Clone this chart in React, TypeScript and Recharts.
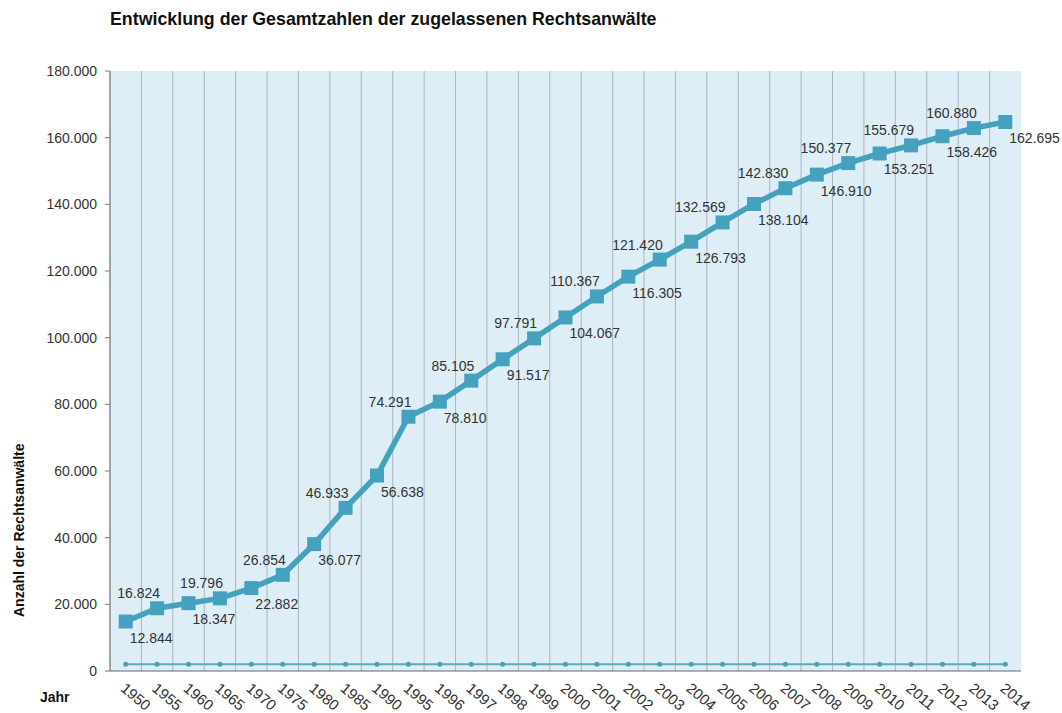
import { Area, AreaChart, CartesianGrid, LabelList, XAxis, YAxis } from "recharts";

const YEARS = [
  "1950", "1955", "1960", "1965", "1970", "1975", "1980", "1985", "1990", "1995",
  "1996", "1997", "1998", "1999", "2000", "2001", "2002", "2003", "2004", "2005",
  "2006", "2007", "2008", "2009", "2010", "2011", "2012", "2013", "2014",
];

const ANWAELTE = [
  12844, 16824, 18347, 19796, 22882, 26854, 36077, 46933, 56638, 74291,
  78810, 85105, 91517, 97791, 104067, 110367, 116305, 121420, 126793, 132569,
  138104, 142830, 146910, 150377, 153251, 155679, 158426, 160880, 162695,
];

// untere Reihe (fast konstant am Boden)
const SOCKEL = [
  2000, 2000, 2000, 2000, 2000, 2000, 2000, 2000, 2000, 2000,
  2000, 2000, 2000, 2000, 2000, 2000, 2000, 2000, 2000, 2000,
  2000, 2000, 2000, 2000, 2000, 2000, 2000, 2000, 2000,
];

const Y_TICKS = [0, 20000, 40000, 60000, 80000, 100000, 120000, 140000, 160000, 180000];

const data = YEARS.map((year, i) => ({ year, sockel: SOCKEL[i], anwaelte: ANWAELTE[i] }));

const FONT = "Arial, 'Liberation Sans', sans-serif";
const TEXT = "#333";
const LINE = "#44a2be";

const fmt = (v: number) => String(v).replace(/\B(?=(\d{3})+(?!\d))/g, ".");

function ValueLabel({ x, y, index }: any) {
  const below = index % 2 === 0;
  return (
    <text
      x={below ? x + 4 : x + 3}
      y={below ? y + 21 : y - 10}
      textAnchor={below ? "start" : "end"}
      fontSize={14}
      fontFamily={FONT}
      fill={TEXT}
    >
      {fmt(ANWAELTE[index])}
    </text>
  );
}

function YearTick({ x, y, payload }: any) {
  const tx = x - 6;
  const ty = y + 19;
  return (
    <text
      x={tx}
      y={ty}
      transform={`rotate(40, ${tx}, ${ty})`}
      textAnchor="start"
      fontSize={15}
      fontFamily={FONT}
      fill={TEXT}
    >
      {payload.value}
    </text>
  );
}

export default function App() {
  return (
    <div style={{ position: "absolute", left: 0, top: 0, width: 1062, height: 713, background: "#fff" }}>
      <div
        style={{
          position: "absolute",
          left: 110,
          top: 9,
          fontFamily: FONT,
          fontWeight: "bold",
          fontSize: 17.8,
          color: "#111",
          whiteSpace: "nowrap",
        }}
      >
        Entwicklung der Gesamtzahlen der zugelassenen Rechtsanwälte
      </div>
      <AreaChart width={1062} height={713} data={data} margin={{ top: 71, right: 41, bottom: 0, left: 0 }}>
        <CartesianGrid
          horizontal={false}
          fill="#deeef7"
          fillOpacity={1}
          stroke="#a7b6bf"
          verticalCoordinatesGenerator={({ offset }: any) =>
            YEARS.slice(1).map((_, i) => offset.left + ((i + 1) * offset.width) / YEARS.length)
          }
        />
        <XAxis
          dataKey="year"
          height={42}
          padding={{ left: 15.7, right: 15.7 }}
          tickLine={false}
          tickSize={0}
          tickMargin={0}
          interval={0}
          axisLine={{ stroke: "#666" }}
          tick={<YearTick />}
          label={{
            content: () => (
              <text x={40} y={702} fontSize={14} fontWeight="bold" fontFamily={FONT} fill="#111">
                Jahr
              </text>
            ),
          }}
        />
        <XAxis xAxisId="top" dataKey="year" orientation="top" height={0} tick={false} tickLine={false} axisLine={{ stroke: "#8c8c8c" }} />
        <YAxis
          width={110}
          domain={[0, 180000]}
          ticks={Y_TICKS}
          tickFormatter={fmt}
          tickSize={5}
          tickMargin={8}
          tick={{ fontSize: 14, fontFamily: FONT, fill: TEXT }}
          tickLine={{ stroke: "#777" }}
          axisLine={{ stroke: "#555" }}
          label={{
            content: () => (
              <text
                x={24}
                y={617}
                transform="rotate(-90, 24, 617)"
                textAnchor="start"
                fontSize={14}
                fontWeight="bold"
                fontFamily={FONT}
                fill="#111"
              >
                Anzahl der Rechtsanwälte
              </text>
            ),
          }}
        />
        <YAxis yAxisId="right" orientation="right" width={0} tick={false} tickLine={false} axisLine={{ stroke: "#8c8c8c" }} />
        <Area
          type="linear"
          dataKey="sockel"
          stackId="a"
          stroke="#5fa9bb"
          strokeWidth={2}
          fill="none"
          fillOpacity={0}
          isAnimationActive={false}
          dot={(p: any) => <circle key={`s${p.index}`} cx={p.cx} cy={p.cy} r={2.5} fill="#4e9fb3" />}
          activeDot={false}
        />
        <Area
          type="linear"
          dataKey="anwaelte"
          stackId="a"
          stroke={LINE}
          strokeWidth={5.5}
          fill="none"
          fillOpacity={0}
          isAnimationActive={false}
          dot={(p: any) => (
            <rect key={`a${p.index}`} x={p.cx - 7} y={p.cy - 7} width={14} height={14} fill={LINE} />
          )}
          activeDot={false}
        >
          <LabelList content={<ValueLabel />} />
        </Area>
      </AreaChart>
    </div>
  );
}
